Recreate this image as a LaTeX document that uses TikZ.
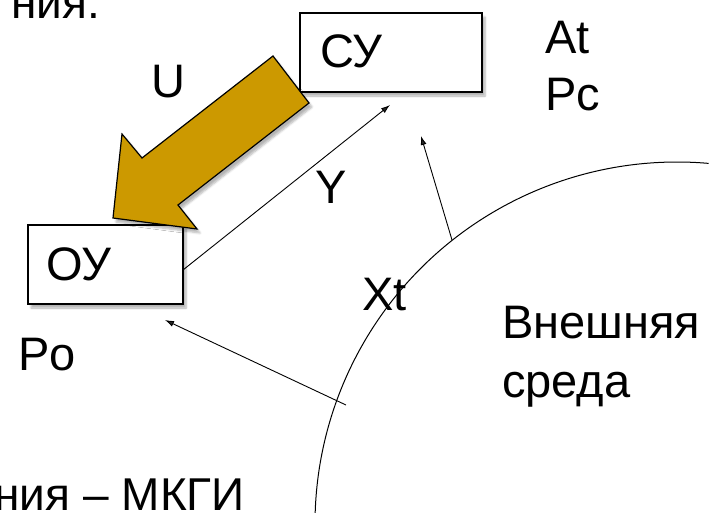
\documentclass[tikz,border=0pt]{standalone}
\usepackage{fontspec}
\setmainfont{Liberation Sans}
\usetikzlibrary{arrows.meta,shadows.blur}
\definecolor{gold}{HTML}{CC9900}

\begin{document}
\begin{tikzpicture}[x=1pt, y=-1pt,
    every node/.style={inner sep=0pt, anchor=base west, font=\fontsize{47}{54}\selectfont},
    box/.style={draw, line width=1.2pt, fill=white, anchor=center,
      blur shadow={shadow xshift=3pt, shadow yshift=-4pt, shadow blur steps=6, shadow opacity=30}},
    sig/.style={line width=0.9pt, -{Latex[length=9pt,width=6pt]}}]

      \useasboundingbox (0,0) rectangle (715,512);

      % slide text cut by the frame
      \node[anchor=base east, font=\fontsize{46}{52}\selectfont] (top) at (100,18) {ния.};
      \node[anchor=base east, font=\fontsize{46}{52}\selectfont] (bottom) at (245,510) {ния -- МКГИ};

      % environment
      \draw[line width=1pt] (677,524) ++(-85:362) arc[start angle=-85, end angle=-185, radius=362];
      \node[font=\fontsize{47}{54}\selectfont] (env1) at (502,338) {Внешняя};
      \node[font=\fontsize{47}{54}\selectfont] (env2) at (502,397) {среда};

      % control system
      \node[box, minimum width=182pt, minimum height=79pt] (cy) at (391,52.5) {};
      \node (cylabel) at (320,67) {СУ};
      \node (at) at (545,53) {At};
      \node (pc) at (545,110) {Pc};

      % controlled object
      \node[box, minimum width=155pt, minimum height=79pt] (oy) at (105.5,264.5) {};
      \node (oylabel) at (46,280) {ОУ};
      \node (po) at (18,370) {Po};

      % control action U
      \draw[line width=1.2pt, fill=gold,
        blur shadow={shadow xshift=3pt, shadow yshift=-4pt, shadow blur steps=6, shadow opacity=30}]
        (273,56) -- (309,103) -- (178,205) -- (197,229) -- (113,218) -- (122,134) -- (142,158) -- cycle;
      \node (u) at (151,97) {U};

      % output Y
      \coordinate (yend) at (390,105);
      \draw[sig] ([yshift=-5pt]oy.east) -- (yend);
      \node (y) at (315,203) {Y};

      % disturbances Xt
      \coordinate (xt1) at (452,240);
      \coordinate (xt1end) at (421,136);
      \coordinate (xt2) at (346,405);
      \coordinate (xt2end) at (165,320);
      \draw[sig] (xt1) -- (xt1end);
      \draw[sig] (xt2) -- (xt2end);
      \node (xt) at (362,310) {Xt};

    \end{tikzpicture}
\end{document}
